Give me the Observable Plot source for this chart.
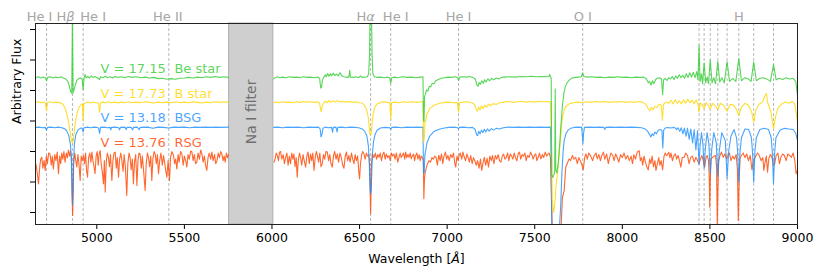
<!DOCTYPE html>
<html><head><meta charset="utf-8">
<script src="https://cdn.jsdelivr.net/npm/d3@7"></script>
<script src="https://cdn.jsdelivr.net/npm/@observablehq/plot@0.6"></script>
<style>body{margin:0;background:#fff}</style>
</head><body><div id="chart"></div>
<script>
const xTicks = [5000, 5500, 6000, 6500, 7000, 7500, 8000, 8500, 9000];
const yTicks = [0, 1, 2, 3, 4, 5, 6];
const lineWaves = [4713, 4861, 4922, 5411, 6563, 6678, 7065, 7774, 8438, 8467, 8502, 8545, 8598, 8665, 8750, 8863];
const labelTexts = ["He I", "Hβ", "He I", "He II", "Hα", "He I", "He I", "O I", "H"];
const labelWaves = [4713, 4861, 4922, 5411, 6563, 6678, 7065, 7774, 8665];
const filterBand = [5755, 6008];
const filterText = "Na I filter";
const seriesMags = ["V = 17.15", "V = 17.73", "V = 13.18", "V = 13.76"];
const seriesTypes = ["Be star", "B star", "BSG", "RSG"];

// Be star (wavelength Å, arbitrary flux incl. offset); null = gap
const beStar = [[4652,4.42],[4665,4.45],[4680,4.41],[4695,4.44],[4706,4.42],[4713,4.32],[4719,4.43],[4735,4.45],[4750,4.41],[4765,4.44],[4780,4.42],[4795,4.45],[4808,4.41],[4822,4.38],[4835,4.30],[4845,4.10],[4852,3.95],[4857,3.91],[4859,5.2],[4861,6.6],[4863,5.2],[4865,3.92],[4870,4.02],[4877,4.18],[4886,4.33],[4898,4.40],[4908,4.41],[4916,4.38],[4922,4.03],[4927,4.40],[4933,4.52],[4938,4.42],[4948,4.46],[4958,4.41],[4968,4.48],[4978,4.43],[4990,4.46],[5002,4.42],[5016,4.36],[5022,4.45],[5035,4.42],[5048,4.47],[5060,4.42],[5075,4.45],[5090,4.41],[5105,4.46],[5120,4.43],[5140,4.45],[5160,4.42],[5180,4.46],[5200,4.43],[5225,4.45],[5250,4.42],[5275,4.44],[5300,4.41],[5325,4.43],[5350,4.39],[5375,4.40],[5400,4.37],[5425,4.39],[5450,4.37],[5475,4.40],[5500,4.41],[5525,4.43],[5550,4.41],[5575,4.44],[5600,4.42],[5625,4.45],[5650,4.43],[5675,4.46],[5700,4.43],[5725,4.45],[5752,4.43],
[5880,null],
[6010,4.38],[6020,4.43],[6030,4.45],[6045,4.42],[6060,4.44],[6080,4.42],[6100,4.45],[6120,4.43],[6140,4.44],[6160,4.42],[6180,4.45],[6200,4.43],[6220,4.44],[6240,4.42],[6260,4.44],[6272,4.40],[6278,4.08],[6283,4.12],[6288,4.35],[6296,4.43],[6304,4.52],[6310,4.45],[6318,4.56],[6325,4.47],[6333,4.55],[6340,4.48],[6350,4.57],[6358,4.49],[6368,4.54],[6378,4.48],[6388,4.58],[6398,4.48],[6410,4.45],[6425,4.44],[6438,4.43],[6444,4.66],[6448,4.44],[6465,4.43],[6480,4.45],[6495,4.42],[6505,4.48],[6515,4.43],[6530,4.44],[6545,4.45],[6552,4.55],[6557,5.2],[6560,6.6],[6568,6.6],[6571,5.2],[6576,4.55],[6585,4.45],[6600,4.43],[6620,4.44],[6640,4.42],[6660,4.44],[6672,4.41],[6678,4.24],[6684,4.42],[6700,4.44],[6720,4.42],[6745,4.45],[6770,4.43],[6795,4.44],[6820,4.42],[6845,4.44],[6862,4.45],[6865,3.05],[6868,2.98],[6871,3.80],[6876,3.88],[6882,4.02],[6890,3.98],[6898,4.14],[6906,4.12],[6915,4.24],[6925,4.22],[6935,4.32],[6950,4.36],[6965,4.40],[6985,4.42],[7005,4.44],[7025,4.43],[7045,4.45],[7060,4.42],[7066,4.33],[7072,4.44],[7090,4.45],[7110,4.44],[7130,4.46],[7150,4.42],[7162,4.36],[7170,4.18],[7176,4.14],[7182,4.26],[7190,4.20],[7198,4.32],[7206,4.24],[7214,4.35],[7222,4.28],[7232,4.38],[7242,4.32],[7254,4.40],[7266,4.35],[7280,4.41],[7295,4.38],[7310,4.43],[7330,4.44],[7360,4.45],[7390,4.44],[7420,4.46],[7450,4.45],[7480,4.47],[7510,4.45],[7540,4.46],[7565,4.45],[7582,4.47],[7586,4.53],[7590,4.45],[7594,4.40],[7597,1.25],[7604,1.15],[7610,1.25],[7614,1.35],[7617,4.05],[7620,1.40],[7626,1.30],[7634,1.60],[7642,2.20],[7650,2.90],[7658,3.50],[7666,3.90],[7674,4.12],[7684,4.25],[7695,4.33],[7710,4.40],[7730,4.43],[7750,4.44],[7766,4.45],[7774,4.58],[7780,4.46],[7800,4.44],[7825,4.45],[7850,4.43],[7875,4.44],[7900,4.42],[7925,4.44],[7950,4.43],[7975,4.45],[8000,4.43],[8025,4.44],[8050,4.42],[8075,4.44],[8100,4.43],[8120,4.44],[8138,4.38],[8148,4.25],[8156,4.30],[8164,4.18],[8172,4.32],[8180,4.22],[8190,4.36],[8200,4.40],[8212,4.42],[8224,4.38],[8230,3.86],[8236,4.35],[8244,4.40],[8255,4.33],[8265,4.42],[8275,4.38],[8285,4.46],[8295,4.36],[8305,4.48],[8315,4.40],[8325,4.52],[8335,4.42],[8345,4.50],[8355,4.40],[8365,4.55],[8375,4.43],[8385,4.58],[8395,4.44],[8405,4.60],[8415,4.42],[8425,4.62],[8432,4.35],[8438,5.48],[8444,4.30],[8452,4.55],[8458,4.22],[8467,4.90],[8476,4.25],[8484,4.45],[8492,4.22],[8502,5.00],[8512,4.25],[8522,4.42],[8532,4.22],[8545,4.95],[8556,4.28],[8568,4.42],[8582,4.25],[8598,4.95],[8612,4.30],[8630,4.40],[8648,4.30],[8665,5.05],[8680,4.32],[8700,4.42],[8720,4.38],[8735,4.30],[8750,4.93],[8765,4.32],[8785,4.40],[8805,4.42],[8825,4.38],[8845,4.30],[8863,4.85],[8878,4.35],[8895,4.40],[8915,4.36],[8935,4.42],[8955,4.38],[8975,4.40],[8990,4.30],[9000,3.85]];

const bStar = [[4652,3.61],[4665,3.63],[4680,3.60],[4695,3.62],[4706,3.60],[4713,3.34],[4719,3.61],[4735,3.63],[4750,3.60],[4765,3.62],[4780,3.61],[4795,3.59],[4808,3.54],[4820,3.40],[4832,3.15],[4842,2.85],[4850,2.55],[4856,2.32],[4861,2.28],[4866,2.35],[4872,2.70],[4880,3.05],[4890,3.32],[4902,3.48],[4912,3.55],[4918,3.54],[4922,3.00],[4926,3.56],[4935,3.60],[4950,3.62],[4965,3.59],[4980,3.62],[4995,3.60],[5010,3.58],[5016,3.29],[5021,3.60],[5035,3.62],[5050,3.60],[5065,3.63],[5080,3.60],[5100,3.62],[5120,3.59],[5140,3.62],[5160,3.60],[5180,3.63],[5200,3.60],[5225,3.62],[5250,3.60],[5275,3.63],[5300,3.61],[5325,3.59],[5350,3.62],[5375,3.60],[5400,3.62],[5425,3.60],[5450,3.63],[5475,3.60],[5500,3.62],[5525,3.60],[5550,3.63],[5575,3.61],[5600,3.59],[5625,3.62],[5650,3.60],[5675,3.63],[5700,3.61],[5725,3.63],[5752,3.61],
[5880,null],
[6010,3.60],[6020,3.62],[6040,3.60],[6060,3.63],[6080,3.61],[6100,3.62],[6120,3.60],[6140,3.63],[6160,3.61],[6180,3.64],[6200,3.62],[6220,3.63],[6240,3.61],[6260,3.63],[6272,3.58],[6280,3.30],[6286,3.45],[6293,3.58],[6305,3.65],[6315,3.60],[6325,3.67],[6335,3.61],[6345,3.66],[6358,3.62],[6370,3.67],[6385,3.62],[6400,3.65],[6420,3.62],[6440,3.64],[6460,3.61],[6480,3.63],[6500,3.60],[6515,3.58],[6528,3.52],[6540,3.38],[6550,3.10],[6556,2.75],[6560,2.55],[6565,2.55],[6570,2.80],[6577,3.20],[6587,3.45],[6600,3.56],[6620,3.61],[6640,3.63],[6660,3.61],[6673,3.60],[6678,3.07],[6683,3.60],[6700,3.62],[6725,3.60],[6750,3.63],[6775,3.61],[6800,3.63],[6825,3.61],[6850,3.63],[6862,3.64],[6865,2.30],[6869,2.40],[6873,2.90],[6878,3.02],[6885,3.25],[6892,3.30],[6900,3.42],[6912,3.45],[6925,3.52],[6940,3.55],[6960,3.58],[6985,3.61],[7010,3.62],[7035,3.60],[7058,3.61],[7065,3.29],[7071,3.60],[7090,3.62],[7115,3.63],[7140,3.60],[7155,3.55],[7165,3.40],[7172,3.32],[7180,3.45],[7188,3.36],[7196,3.50],[7205,3.40],[7214,3.52],[7224,3.45],[7236,3.55],[7248,3.50],[7262,3.57],[7280,3.54],[7300,3.60],[7325,3.62],[7350,3.64],[7375,3.61],[7400,3.63],[7425,3.65],[7450,3.62],[7475,3.64],[7500,3.62],[7525,3.65],[7550,3.63],[7575,3.64],[7590,3.62],[7595,2.5],[7600,0.4],[7608,0.0],[7615,0.3],[7622,0.9],[7630,1.3],[7638,1.8],[7646,2.36],[7654,2.95],[7662,3.22],[7672,3.42],[7685,3.52],[7700,3.57],[7720,3.60],[7745,3.62],[7770,3.60],[7795,3.63],[7820,3.61],[7845,3.64],[7870,3.62],[7895,3.64],[7920,3.61],[7945,3.63],[7970,3.62],[7995,3.64],[8020,3.61],[8045,3.63],[8070,3.61],[8095,3.64],[8115,3.62],[8135,3.55],[8148,3.40],[8158,3.34],[8166,3.45],[8175,3.36],[8185,3.48],[8196,3.44],[8210,3.55],[8222,3.52],[8229,3.02],[8235,3.55],[8250,3.62],[8265,3.58],[8278,3.68],[8290,3.56],[8302,3.70],[8314,3.58],[8326,3.66],[8338,3.56],[8350,3.70],[8362,3.58],[8374,3.72],[8386,3.60],[8398,3.68],[8410,3.56],[8422,3.70],[8432,3.55],[8438,3.30],[8446,3.60],[8456,3.52],[8467,3.42],[8478,3.60],[8490,3.52],[8502,3.40],[8515,3.58],[8530,3.50],[8545,3.38],[8560,3.58],[8580,3.50],[8598,3.32],[8615,3.55],[8635,3.52],[8650,3.40],[8665,3.18],[8680,3.45],[8700,3.58],[8720,3.52],[8738,3.30],[8750,2.96],[8762,3.35],[8780,3.55],[8800,3.62],[8815,3.85],[8822,3.90],[8830,3.60],[8848,3.30],[8863,2.75],[8875,3.15],[8890,3.45],[8910,3.56],[8930,3.62],[8950,3.58],[8970,3.64],[8985,3.55],[9000,2.96]];

const bsg = [[4652,2.79],[4670,2.80],[4690,2.78],[4706,2.79],[4713,2.70],[4719,2.79],[4740,2.80],[4760,2.78],[4780,2.80],[4800,2.78],[4815,2.75],[4828,2.68],[4840,2.52],[4850,2.20],[4855,1.60],[4858,0.80],[4861,0.25],[4864,0.80],[4867,1.60],[4872,2.25],[4880,2.55],[4892,2.70],[4905,2.76],[4916,2.77],[4922,2.64],[4927,2.78],[4945,2.80],[4965,2.78],[4985,2.80],[5000,2.79],[5010,2.77],[5016,2.59],[5021,2.79],[5040,2.80],[5060,2.78],[5076,2.79],[5080,2.71],[5084,2.79],[5105,2.80],[5125,2.78],[5130,2.71],[5135,2.79],[5160,2.80],[5168,2.72],[5172,2.79],[5196,2.79],[5205,2.71],[5209,2.79],[5230,2.80],[5243,2.72],[5247,2.79],[5290,2.80],[5320,2.76],[5350,2.80],[5380,2.79],[5410,2.77],[5440,2.80],[5470,2.79],[5500,2.80],[5530,2.78],[5560,2.80],[5590,2.79],[5620,2.80],[5650,2.79],[5680,2.80],[5710,2.79],[5752,2.80],
[5880,null],
[6010,2.79],[6030,2.80],[6060,2.78],[6090,2.80],[6120,2.79],[6150,2.80],[6180,2.78],[6210,2.80],[6240,2.79],[6265,2.80],[6275,2.74],[6280,2.48],[6285,2.55],[6291,2.76],[6305,2.80],[6320,2.78],[6340,2.79],[6346,2.63],[6350,2.79],[6365,2.80],[6372,2.64],[6376,2.79],[6400,2.80],[6420,2.78],[6445,2.80],[6470,2.79],[6495,2.78],[6515,2.74],[6530,2.66],[6542,2.50],[6550,2.20],[6555,1.70],[6559,0.90],[6562,0.62],[6566,0.68],[6569,1.20],[6573,1.90],[6579,2.30],[6588,2.55],[6600,2.70],[6620,2.77],[6645,2.79],[6672,2.78],[6678,2.73],[6684,2.79],[6710,2.80],[6740,2.78],[6770,2.80],[6800,2.79],[6830,2.80],[6855,2.79],[6862,2.80],[6865,1.28],[6869,1.30],[6873,1.90],[6878,2.05],[6885,2.30],[6892,2.38],[6900,2.50],[6912,2.58],[6925,2.66],[6940,2.70],[6960,2.74],[6985,2.77],[7010,2.79],[7040,2.80],[7060,2.78],[7065,2.74],[7070,2.79],[7095,2.80],[7120,2.78],[7145,2.79],[7160,2.72],[7168,2.55],[7174,2.52],[7180,2.66],[7188,2.58],[7196,2.70],[7204,2.62],[7212,2.73],[7220,2.64],[7230,2.74],[7240,2.67],[7252,2.75],[7265,2.70],[7280,2.76],[7300,2.74],[7320,2.78],[7350,2.80],[7380,2.79],[7410,2.80],[7440,2.79],[7470,2.80],[7500,2.79],[7530,2.80],[7560,2.79],[7590,2.80],[7594,1.5],[7598,-0.6],[7640,-0.6],[7648,0.2],[7655,1.28],[7662,2.0],[7668,2.36],[7678,2.58],[7690,2.70],[7705,2.76],[7725,2.79],[7750,2.80],[7768,2.79],[7772,2.50],[7775,2.26],[7779,2.60],[7784,2.79],[7810,2.80],[7840,2.79],[7870,2.80],[7895,2.79],[7900,2.72],[7905,2.79],[7930,2.80],[7960,2.79],[7990,2.80],[8020,2.79],[8050,2.80],[8080,2.79],[8110,2.78],[8130,2.74],[8145,2.66],[8155,2.56],[8163,2.48],[8170,2.58],[8178,2.52],[8186,2.64],[8195,2.58],[8205,2.70],[8216,2.72],[8226,2.70],[8231,2.12],[8236,2.70],[8245,2.77],[8260,2.79],[8275,2.77],[8290,2.79],[8300,2.78],[8310,2.72],[8318,2.78],[8328,2.66],[8336,2.78],[8346,2.58],[8354,2.77],[8364,2.50],[8372,2.76],[8382,2.40],[8391,2.74],[8401,2.28],[8410,2.72],[8420,2.05],[8429,2.68],[8433,2.2],[8438,1.58],[8444,2.2],[8452,2.62],[8460,2.25],[8467,1.45],[8474,2.1],[8484,2.62],[8494,2.25],[8502,1.28],[8510,2.05],[8522,2.62],[8536,2.3],[8545,1.17],[8553,2.0],[8568,2.62],[8588,2.35],[8598,1.12],[8607,2.0],[8620,2.5],[8638,2.72],[8652,2.45],[8658,2.0],[8665,0.99],[8672,2.0],[8680,2.45],[8700,2.74],[8722,2.72],[8737,2.45],[8743,2.0],[8750,0.99],[8757,2.0],[8765,2.45],[8785,2.72],[8810,2.76],[8835,2.72],[8850,2.45],[8856,2.0],[8863,0.95],[8870,2.0],[8877,2.45],[8900,2.70],[8925,2.76],[8950,2.74],[8975,2.72],[8990,2.60],[9000,2.36]];

const rsg = [[4652,1.60],[4660,1.30],[4667,0.94],[4675,1.55],[4680,1.75],[4686,1.81],[4692,1.45],[4699,1.70],[4705,1.38],[4712,1.85],[4718,1.60],[4725,1.95],[4733,1.92],[4740,1.55],[4746,1.85],[4752,1.43],[4760,1.90],[4767,1.70],[4774,1.98],[4781,1.27],[4788,1.85],[4794,1.60],[4800,1.95],[4806,1.75],[4812,2.00],[4819,1.65],[4826,1.95],[4832,1.80],[4838,2.05],[4845,1.85],[4850,2.02],[4856,1.80],[4859,0.6],[4862,-0.10],[4865,0.5],[4868,1.65],[4874,1.95],[4880,1.70],[4886,1.49],[4892,1.90],[4898,1.60],[4905,1.05],[4911,1.85],[4917,1.70],[4924,1.87],[4930,1.60],[4936,1.95],[4941,1.40],[4947,1.16],[4953,1.80],[4960,1.95],[4966,1.65],[4972,1.98],[4978,1.70],[4984,1.50],[4990,1.27],[4996,1.85],[5002,2.00],[5008,1.55],[5013,1.90],[5019,2.03],[5025,1.60],[5031,1.35],[5038,0.94],[5043,1.70],[5048,0.67],[5054,1.65],[5060,1.95],[5066,1.81],[5072,1.50],[5078,1.90],[5086,1.05],[5092,1.70],[5098,1.95],[5105,1.98],[5111,1.45],[5117,1.80],[5124,1.16],[5130,1.75],[5137,1.95],[5143,1.70],[5150,1.35],[5156,1.90],[5163,1.50],[5171,0.56],[5177,1.60],[5184,1.95],[5190,1.81],[5196,1.40],[5203,1.75],[5209,0.94],[5215,1.65],[5222,1.90],[5229,0.89],[5235,1.70],[5241,1.95],[5247,1.92],[5254,1.45],[5260,1.85],[5268,1.30],[5276,0.72],[5282,1.60],[5289,1.95],[5295,1.81],[5301,1.50],[5308,1.85],[5314,1.05],[5320,1.75],[5327,2.00],[5333,1.92],[5340,1.60],[5346,1.90],[5352,1.27],[5359,1.70],[5366,1.95],[5374,1.55],[5381,1.87],[5388,1.60],[5394,1.35],[5400,1.16],[5407,1.70],[5415,1.05],[5421,1.80],[5428,2.00],[5438,1.87],[5444,1.60],[5450,1.75],[5457,1.43],[5464,1.90],[5470,1.65],[5478,2.00],[5486,1.92],[5493,1.55],[5500,1.85],[5507,1.70],[5514,1.49],[5521,1.90],[5528,1.75],[5536,2.02],[5543,1.98],[5550,1.70],[5557,1.90],[5564,1.60],[5571,1.65],[5578,1.95],[5586,1.75],[5593,2.05],[5600,1.92],[5607,1.65],[5614,1.85],[5621,1.55],[5628,1.38],[5635,1.80],[5642,1.95],[5650,1.75],[5657,1.98],[5664,1.70],[5672,1.90],[5679,1.60],[5686,1.70],[5693,1.95],[5700,1.80],[5707,2.00],[5714,1.92],[5721,1.70],[5727,1.85],[5733,1.65],[5740,1.95],[5746,1.80],[5752,1.90],
[5880,null],
[6012,1.65],[6017,1.73],[6024,1.95],[6030,1.87],[6037,1.70],[6043,1.98],[6049,2.00],[6056,1.75],[6064,1.90],[6071,1.60],[6078,1.81],[6085,1.95],[6092,1.55],[6099,1.85],[6106,1.60],[6113,1.95],[6120,1.75],[6125,1.92],[6132,1.50],[6138,1.80],[6144,1.16],[6150,1.70],[6157,1.95],[6163,1.81],[6170,1.55],[6177,1.90],[6184,1.70],[6192,1.49],[6199,1.85],[6206,1.98],[6213,1.60],[6220,1.92],[6227,1.70],[6233,1.95],[6240,1.38],[6247,1.80],[6253,2.00],[6259,1.87],[6266,1.65],[6273,1.95],[6280,1.50],[6287,1.60],[6294,1.90],[6301,1.75],[6308,2.00],[6316,1.98],[6323,1.70],[6330,1.90],[6337,1.60],[6344,1.49],[6351,1.85],[6358,2.00],[6366,1.75],[6373,1.92],[6380,1.65],[6388,1.95],[6396,1.80],[6404,1.55],[6411,1.45],[6418,1.85],[6425,1.98],[6432,1.70],[6439,1.87],[6446,1.65],[6454,1.95],[6461,1.75],[6468,1.60],[6475,1.90],[6482,1.70],[6489,1.85],[6496,1.30],[6500,1.10],[6505,1.60],[6512,1.90],[6518,2.00],[6525,1.92],[6532,1.75],[6539,1.95],[6546,1.85],[6553,1.90],[6558,1.5],[6561,0.6],[6563,-0.04],[6565,0.6],[6568,1.6],[6574,1.92],[6582,1.80],[6590,1.95],[6597,1.75],[6604,1.90],[6611,1.81],[6618,1.95],[6625,1.70],[6632,1.90],[6639,1.98],[6646,1.75],[6653,1.92],[6660,1.80],[6668,1.87],[6675,1.70],[6682,1.95],[6689,1.85],[6696,1.92],[6703,1.75],[6710,1.95],[6718,1.65],[6725,1.81],[6732,1.95],[6738,1.80],[6744,1.87],[6751,1.95],[6758,1.75],[6763,1.98],[6770,1.80],[6776,1.90],[6782,1.81],[6789,1.95],[6795,1.76],[6801,1.85],[6808,1.92],[6814,1.70],[6820,1.87],[6827,1.95],[6833,1.75],[6840,1.90],[6846,1.70],[6852,1.85],[6858,1.80],[6864,1.70],[6867,0.45],[6870,1.0],[6873,1.27],[6880,1.45],[6888,1.60],[6896,1.70],[6905,1.65],[6913,1.80],[6921,1.75],[6930,1.85],[6937,1.81],[6944,1.55],[6952,1.88],[6960,1.70],[6968,1.92],[6975,1.60],[6982,1.85],[6990,1.98],[6997,1.75],[7004,1.87],[7012,1.70],[7020,1.90],[7028,1.80],[7036,1.95],[7044,1.60],[7049,1.49],[7056,1.85],[7063,1.70],[7068,1.87],[7075,1.95],[7083,1.75],[7090,1.98],[7098,1.81],[7105,1.70],[7113,1.92],[7120,1.80],[7127,1.65],[7134,1.87],[7143,1.60],[7150,1.80],[7158,1.70],[7166,1.55],[7174,1.70],[7182,1.45],[7190,1.75],[7197,1.38],[7204,1.60],[7212,1.81],[7220,1.55],[7228,1.78],[7236,1.49],[7244,1.85],[7252,1.70],[7259,1.87],[7267,1.60],[7275,1.87],[7283,1.75],[7291,1.90],[7299,1.70],[7307,1.65],[7315,1.85],[7322,1.92],[7330,1.75],[7337,1.80],[7345,1.95],[7352,1.70],[7360,1.92],[7368,1.85],[7375,1.75],[7383,1.95],[7390,1.80],[7398,1.70],[7405,1.92],[7413,1.98],[7420,1.75],[7428,1.90],[7436,1.85],[7444,1.95],[7451,1.70],[7459,1.87],[7468,1.81],[7476,1.98],[7483,1.90],[7491,1.75],[7498,1.87],[7506,1.92],[7512,1.70],[7520,1.81],[7527,1.95],[7535,1.76],[7544,1.90],[7551,1.80],[7560,1.98],[7568,1.85],[7576,1.92],[7582,1.95],[7590,1.80],[7595,0.5],[7600,-0.6],[7630,-0.7],[7650,-0.5],[7658,0.5],[7668,0.72],[7677,1.49],[7685,1.60],[7696,1.76],[7705,1.70],[7715,1.87],[7723,1.75],[7734,1.81],[7743,1.60],[7752,1.80],[7760,1.70],[7770,1.55],[7777,1.40],[7785,1.80],[7792,1.92],[7800,1.75],[7808,1.95],[7820,1.85],[7830,1.70],[7840,1.87],[7850,1.95],[7857,1.76],[7866,1.90],[7875,1.70],[7882,1.85],[7892,1.98],[7900,1.75],[7910,1.92],[7920,1.60],[7927,1.80],[7935,1.95],[7945,1.87],[7953,1.70],[7962,1.92],[7970,1.81],[7980,1.65],[7990,1.90],[8000,1.80],[8010,1.95],[8020,1.75],[8030,1.87],[8040,1.70],[8050,1.85],[8058,1.60],[8066,1.90],[8075,1.75],[8085,1.98],[8096,2.03],[8103,1.70],[8110,1.80],[8116,1.55],[8124,1.85],[8132,1.65],[8140,1.49],[8148,1.40],[8156,1.75],[8163,1.60],[8170,1.85],[8178,1.50],[8186,1.70],[8192,1.38],[8200,1.60],[8208,1.80],[8214,1.55],[8222,1.70],[8230,1.40],[8238,1.85],[8245,1.95],[8252,1.87],[8258,1.90],[8265,1.98],[8272,1.80],[8278,1.95],[8286,1.70],[8295,1.87],[8303,1.92],[8310,1.75],[8318,1.87],[8326,1.70],[8334,1.49],[8342,1.80],[8353,1.81],[8362,1.95],[8372,1.87],[8381,1.60],[8390,1.80],[8400,1.85],[8410,1.65],[8420,1.81],[8430,1.70],[8438,1.60],[8446,1.75],[8454,1.87],[8462,1.70],[8470,1.49],[8478,1.80],[8485,1.87],[8492,1.70],[8496,1.2],[8499,0.17],[8502,1.0],[8506,1.75],[8515,1.81],[8525,1.85],[8532,1.87],[8538,1.5],[8542,-0.4],[8546,0.8],[8550,1.70],[8558,1.87],[8566,1.98],[8576,1.81],[8585,1.92],[8595,1.76],[8604,1.87],[8612,1.95],[8620,1.70],[8630,1.85],[8640,1.75],[8650,1.90],[8657,1.4],[8662,-0.26],[8667,1.0],[8672,1.80],[8680,1.87],[8690,1.95],[8700,1.80],[8710,1.92],[8720,1.70],[8730,1.87],[8740,1.40],[8746,1.60],[8754,1.76],[8762,1.85],[8772,1.95],[8782,1.87],[8792,1.70],[8802,1.80],[8808,1.38],[8815,1.65],[8822,1.85],[8829,1.32],[8836,1.76],[8845,1.90],[8855,1.80],[8863,1.55],[8870,1.60],[8878,1.87],[8888,1.95],[8897,1.60],[8905,1.81],[8915,1.92],[8925,1.87],[8935,1.70],[8945,1.92],[8955,1.87],[8965,1.81],[8975,1.95],[8985,1.70],[8992,1.27],[9000,1.40]];

// ---- layout / style ----
const colors = ["#32cd32", "#ffd700", "#1e90ff", "#ff4500"];
const labelDx = [-7, -7, 10, -1, -5, 5, 0, 0, 0];
const seriesLabelY = [4.71, 3.89, 3.09, 2.30];
const magX = 5021, typeX = 5443;
const yDomain = [-0.393, 6.197];

const series = [beStar, bStar, bsg, rsg].map((pts, i) => pts.map(([w, f]) => ({w, f, i})));
const lineMark = i => Plot.line(series[i], {x: "w", y: "f", stroke: colors[i], strokeOpacity: 0.82, strokeWidth: 1.1, clip: true});
const labels = labelTexts.map((t, i) => ({t, w: labelWaves[i]}));

const chart = Plot.plot({
  width: 823, height: 277,
  marginLeft: 35, marginRight: 26, marginTop: 23, marginBottom: 53,
  style: {fontFamily: "DejaVu Sans", fontSize: "12px", color: "#000", background: "#fff", overflow: "visible"},
  x: {domain: [4650, 9000]},
  y: {domain: yDomain},
  marks: [
    Plot.rect([filterBand], {x1: d => d[0], x2: d => d[1], fill: "#cfcfcf", stroke: "#b0b0b0", strokeWidth: 1}),
    Plot.ruleX(lineWaves, {stroke: "#b8b8b8", strokeWidth: 1, strokeDasharray: "3,2"}),
    lineMark(3), lineMark(2), lineMark(1), lineMark(0),
    Plot.text([filterText], {x: (filterBand[0] + filterBand[1]) / 2, y: 3.30, rotate: -90, fill: "#6e6e6e", fontSize: 14}),
    ...labels.map((d, i) => Plot.text([d], {x: "w", text: "t", frameAnchor: "top", lineAnchor: "middle", dy: -7, dx: labelDx[i], fill: "#a6a6a6", fontSize: 13})),
    ...seriesMags.map((m, i) => Plot.text([m], {x: magX, y: seriesLabelY[i], textAnchor: "start", fill: colors[i], fillOpacity: 0.82, fontSize: 13})),
    ...seriesTypes.map((m, i) => Plot.text([m], {x: typeX, y: seriesLabelY[i], textAnchor: "start", fill: colors[i], fillOpacity: 0.82, fontSize: 13})),
    Plot.axisX({ticks: xTicks, tickFormat: d => String(d), tickSize: 5, label: null, fontSize: 12.5}),
    Plot.axisY({ticks: yTicks, tickFormat: () => "", tickSize: 5, label: null}),
    Plot.text(["Wavelength [Å]"], {frameAnchor: "bottom", lineAnchor: "middle", dy: 34, fontSize: 12.5, fill: "#000"}),
    Plot.text(["Arbitrary Flux"], {frameAnchor: "left", lineAnchor: "middle", rotate: -90, dx: -19, fontSize: 12.5, fill: "#000"}),
    Plot.frame({stroke: "#222", strokeWidth: 1})
  ]
});

// italic Greek / Å as in the original math text
d3.select(chart).selectAll("text").each(function() {
  const el = d3.select(this);
  const t = this.textContent;
  if (t === "Hβ" || t === "Hα") {
    el.text("H"); el.append("tspan").attr("font-style", "italic").text(t.slice(1));
  } else if (t === "Wavelength [Å]") {
    el.text("Wavelength ["); el.append("tspan").attr("font-style", "italic").text("Å"); el.append("tspan").text("]");
  }
});
document.getElementById("chart").appendChild(chart);
</script>
</body></html>
